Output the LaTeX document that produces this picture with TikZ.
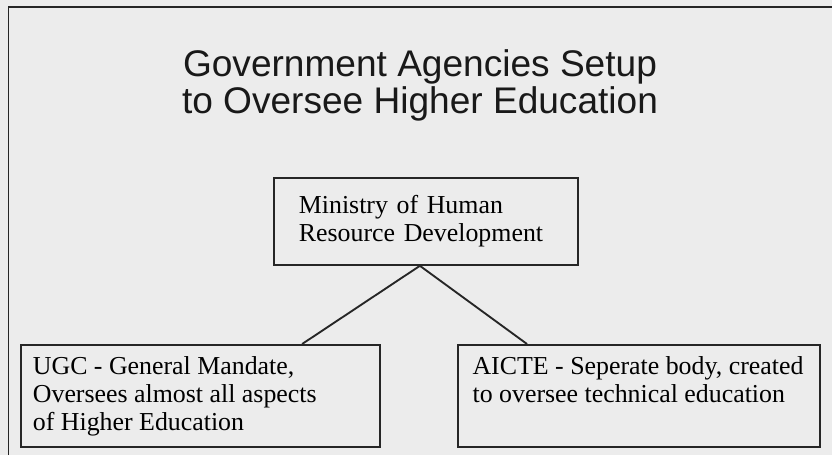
\documentclass[tikz,border=0pt]{standalone}
\usepackage{fontspec}
\setmainfont{Liberation Serif}
\newfontfamily\titlefont{Liberation Sans}

\definecolor{panel}{HTML}{ECECEC}
\definecolor{ink}{HTML}{262626}

\tikzset{
  agency/.style={draw=ink, line width=1.35pt, anchor=north west, inner xsep=9pt, inner ysep=9pt,
    text=black, font=\fontsize{19.4}{21}\selectfont},
  link/.style={draw=ink, line width=1.4pt},
}
% three text lines high, text starting at the top
\newcommand{\agencytext}[2]{\parbox[c][58.5pt][t]{#1}{\raggedright #2}}

\begin{document}
\begin{tikzpicture}[x=0.75pt,y=-0.75pt]
                        % Page and frame
                        \useasboundingbox (0,0) rectangle (832,455);
                        \fill[panel] (0,0) rectangle (832,455);
                        \draw[ink, line width=1.4pt] (8.5,455) -- (8.5,7) -- (832,7);

                        % Title
                        \node[anchor=north, inner sep=0pt, align=center, text=black!90,
                          font=\titlefont\fontsize{27.8}{27.75}\selectfont] (title) at (420,49.5)
                          {Government Agencies Setup\\to Oversee Higher Education};

                        % Nodes
                        \node[agency, align=left, text width=190.5pt, inner xsep=18.75pt,
                          minimum height=65.25pt] (mhrd) at (273,177)
                          {Ministry of Human\\Resource Development};
                        \node[agency] (ugc) at (20,344)
                          {\agencytext{251.25pt}{UGC - General Mandate,\\Oversees almost all aspects\\of Higher Education}};
                        \node[agency, inner xsep=11pt] (aicte) at (457,344)
                          {\agencytext{249.5pt}{AICTE - Seperate body, created\\to oversee technical education}};

                        % Edges
                        \draw[link] ([xshift=-4.5pt]mhrd.south) -- ([xshift=-59pt]ugc.north east);
                        \draw[link] ([xshift=-4.5pt]mhrd.south) -- ([xshift=52.5pt]aicte.north west);
\end{tikzpicture}
\end{document}
